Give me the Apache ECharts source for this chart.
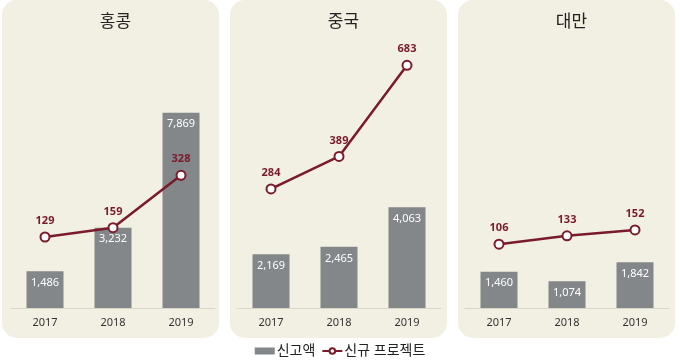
<!DOCTYPE html>
<html><head><meta charset="utf-8">
<script src="https://cdn.jsdelivr.net/npm/echarts@6/dist/echarts.min.js"></script>
<style>html,body{margin:0;padding:0;background:#fff}#c{width:680px;height:364px}</style>
</head><body><div id="c"></div>
<script>
const years = ['2017', '2018', '2019'];
const regions = ['홍콩', '중국', '대만'];
const investHK = [1486, 3232, 7869];
const investCN = [2169, 2465, 4063];
const investTW = [1460, 1074, 1842];
const projHK = [129, 159, 328];
const projCN = [284, 389, 683];
const projTW = [106, 133, 152];
const barName = '신고액';
const lineName = '신규 프로젝트';

const invest = [investHK, investCN, investTW];
const proj = [projHK, projCN, projTW];
const FONT = "'Noto Sans','Noto Sans CJK KR',sans-serif";
const panelX = [2, 230, 458];
const panelW = 217;
const gridLeft = [11, 237, 465];
const barColor = '#83878a';
const lineColor = '#7a1a2b';

const grids = [], xAxes = [], yAxes = [], series = [], titles = [], graphics = [];
for (let i = 0; i < 3; i++) {
  graphics.push({type: 'rect', z: -10, shape: {x: panelX[i], y: 0, width: panelW, height: 338, r: 15}, style: {fill: '#f2efe3'}});
  titles.push({text: regions[i], left: panelX[i] + panelW / 2, top: 9, textAlign: 'center',
    textStyle: {fontFamily: FONT, fontSize: 17, fontWeight: 'normal', color: '#222'}});
  grids.push({left: gridLeft[i], width: 204, top: 60, bottom: 56});
  xAxes.push({type: 'category', gridIndex: i, data: years,
    axisTick: {show: false}, axisLine: {lineStyle: {color: '#d9d5c8', width: 1}},
    axisLabel: {color: '#333', fontSize: 11, fontFamily: FONT, margin: 9}});
  yAxes.push({type: 'value', gridIndex: i, min: 0, max: 10000, show: false, splitLine: {show: false}});
  yAxes.push({type: 'value', gridIndex: i, min: -100, max: 700, show: false, splitLine: {show: false}});
  series.push({name: barName, type: 'bar', xAxisIndex: i, yAxisIndex: 2 * i, data: invest[i],
    barWidth: 37, itemStyle: {color: barColor},
    label: {show: true, position: 'insideTop', distance: 6, color: '#fff', fontSize: 11, fontFamily: FONT,
      formatter: p => p.value.toLocaleString('en-US')}});
  series.push({name: lineName, type: 'line', xAxisIndex: i, yAxisIndex: 2 * i + 1, data: proj[i], z: 5,
    symbol: 'circle', symbolSize: 9, lineStyle: {color: lineColor, width: 2.5},
    itemStyle: {color: '#fff', borderColor: lineColor, borderWidth: 2},
    label: {show: true, position: 'top', distance: 5, color: lineColor, fontSize: 11, fontWeight: 'bold', fontFamily: FONT}});
}

const chart = echarts.init(document.getElementById('c'), null, {renderer: 'canvas'});
chart.setOption({
  animation: false,
  title: titles,
  grid: grids,
  xAxis: xAxes,
  yAxis: yAxes,
  series: series,
  graphic: graphics,
  legend: {bottom: 1, left: 'center', itemGap: 6, itemWidth: 20, itemHeight: 7,
    textStyle: {fontFamily: FONT, fontSize: 14, color: '#222', padding: [0, 0, 0, -3]},
    data: [{name: barName, icon: 'rect'}, {name: lineName}]}
});
</script></body></html>
